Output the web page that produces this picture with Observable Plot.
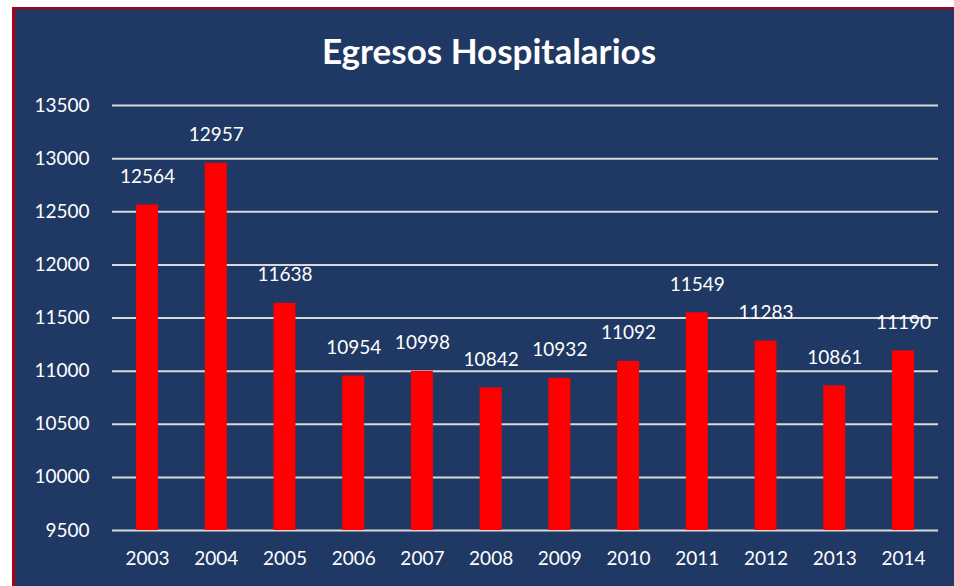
<!DOCTYPE html>
<html>
<head>
<meta charset="utf-8">
<script src="https://cdn.jsdelivr.net/npm/d3@7"></script>
<script src="https://cdn.jsdelivr.net/npm/@observablehq/plot@0.6"></script>
<style>
  html, body { margin: 0; padding: 0; background: #ffffff; width: 954px; height: 586px; overflow: hidden; }
  #panel {
    position: absolute; left: 12px; top: 7px; width: 942px; height: 579px;
    background: #203864; border-left: 3px solid #b0000f; border-top: 2px solid #b0000f;
    box-sizing: border-box;
  }
  #title {
    position: absolute; left: 489px; top: 30px; transform: translateX(-50%); white-space: nowrap;
    font-family: Lato, "Open Sans", sans-serif; font-weight: bold; font-size: 35px;
    color: #ffffff; line-height: 40px;
  }
  #chart { position: absolute; left: 15px; top: 70px; }
</style>
</head>
<body>
<div id="panel"></div>
<div id="title">Egresos Hospitalarios</div>
<div id="chart"></div>
<script>
const years = ["2003","2004","2005","2006","2007","2008","2009","2010","2011","2012","2013","2014"];
const egresos = [12564, 12957, 11638, 10954, 10998, 10842, 10932, 11092, 11549, 11283, 10861, 11190];
const yTicks = [9500, 10000, 10500, 11000, 11500, 12000, 12500, 13000, 13500];
const yBase = 9500;

const data = years.map((y, i) => ({year: y, value: egresos[i]}));

const chart = Plot.plot({
  width: 939,
  height: 516,
  marginLeft: 97,
  marginRight: 16,
  marginTop: 35,
  marginBottom: 56,
  style: {background: "transparent", color: "#ffffff", fontFamily: "Lato, 'Open Sans', sans-serif", fontSize: "19px"},
  x: {domain: years, paddingInner: 0.68, paddingOuter: 0.35, round: false, label: null},
  y: {domain: [9500, 13500], label: null},
  marks: [
    Plot.ruleY(yTicks, {stroke: "#d9d9d9", strokeWidth: 2, strokeOpacity: 1}),
    Plot.rectY(data, {x: "year", y1: yBase, y2: "value", fill: "#ff0000"}),
    Plot.text(data, {x: "year", y: "value", text: d => String(d.value), dy: -28, fill: "#ffffff", fontSize: 19}),
    Plot.axisX({tickSize: 0, tickPadding: 21, fontSize: 19, label: null}),
    Plot.axisY({ticks: yTicks, tickSize: 0, tickPadding: 23, tickFormat: d => String(d), fontSize: 19, label: null})
  ]
});
document.getElementById("chart").appendChild(chart);
</script>
</body>
</html>
